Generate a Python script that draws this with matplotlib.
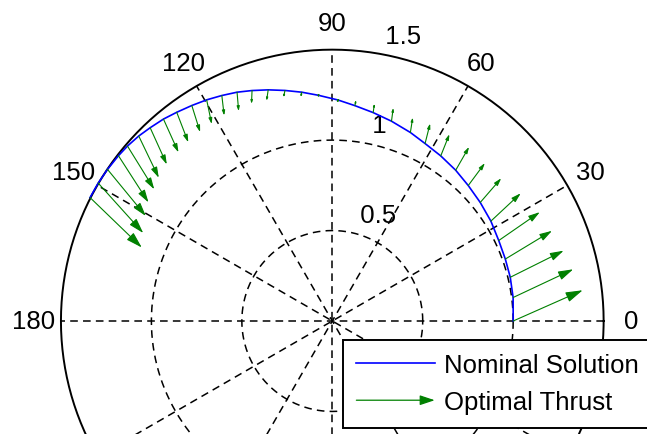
import numpy as np
import matplotlib
matplotlib.use("Agg")
import matplotlib.pyplot as plt
from matplotlib.lines import Line2D
from matplotlib.patches import FancyArrowPatch
from matplotlib.legend_handler import HandlerBase

plt.rcParams['font.family'] = ['Liberation Sans', 'DejaVu Sans']

# Nominal trajectory (polar angle in degrees, radius); thrust arrows start at these points
theta_deg = [0.0, 7.4, 13.8, 19.7, 25.8, 32.2, 38.7, 44.9, 50.7, 56.7, 62.4, 67.5,
             73.5, 78.9, 84.0, 88.5, 93.5, 97.6, 101.6, 105.5, 109.2, 112.6, 116.1,
             119.6, 123.1, 126.7, 129.9, 133.3, 136.3, 139.5, 142.3, 146.0, 149.5, 153.0]
radius = [1.000, 1.008, 1.013, 1.016, 1.022, 1.036, 1.048, 1.061, 1.077, 1.092, 1.107,
          1.128, 1.152, 1.174, 1.197, 1.222, 1.250, 1.276, 1.301, 1.326, 1.349, 1.370,
          1.388, 1.406, 1.422, 1.439, 1.455, 1.468, 1.480, 1.489, 1.494, 1.499, 1.502, 1.503]

# Thrust direction vectors (Cartesian components)
thrust_u = [0.384, 0.332, 0.295, 0.258, 0.227, 0.165, 0.116, 0.092, 0.074, 0.048, 0.028,
            0.013, 0.010, 0.007, 0.006, 0.003, -0.003, -0.006, -0.008, -0.009, -0.003,
            0.009, 0.013, 0.028, 0.046, 0.064, 0.083, 0.092, 0.111, 0.148, 0.166, 0.212,
            0.249, 0.286]
thrust_v = [0.170, 0.156, 0.147, 0.156, 0.157, 0.154, 0.134, 0.124, 0.129, 0.120, 0.111,
            0.083, 0.074, 0.050, 0.032, 0.011, -0.014, -0.028, -0.039, -0.061, -0.074,
            -0.105, -0.111, -0.134, -0.147, -0.166, -0.184, -0.203, -0.231, -0.239, -0.258,
            -0.258, -0.276, -0.276]

rmax = 1.5
rings = [0.5, 1.0]
angle_labels = [0, 30, 60, 90, 120, 150, 180]
spoke_step = 30
blue = '#0000ff'
green = '#008000'

fig = plt.figure(figsize=(6.47, 4.35), dpi=100)
ax = fig.add_axes([0, 0, 1, 1])
ax.set_xlim(-1.8369, 1.7397)
ax.set_ylim(-0.6247, 1.7800)
ax.axis('off')

dash = (5, 3.4)
phi = np.linspace(0, 2 * np.pi, 361)
for rr in rings:
    ax.plot(rr * np.cos(phi), rr * np.sin(phi), color='black', lw=1.1,
            dashes=dash, zorder=1)
ax.plot(rmax * np.cos(phi), rmax * np.sin(phi), color='black', lw=1.4, zorder=1)

for ang in range(spoke_step, 181, spoke_step):
    a = np.deg2rad(ang)
    ax.plot([-rmax * np.cos(a), rmax * np.cos(a)], [-rmax * np.sin(a), rmax * np.sin(a)],
            color='black', lw=1.1, dashes=dash, zorder=1)

# angle labels
fs = 18.5
for ang in angle_labels:
    a = np.deg2rad(ang)
    ax.text(1.1 * rmax * np.cos(a), 1.1 * rmax * np.sin(a), str(ang), ha='center',
            va='center', fontsize=fs, color='black')

# radial labels
a82 = np.deg2rad(82)
for rr in rings + [rmax]:
    lab = ('%g' % rr)
    ax.text((rr + 0.025) * np.cos(a82), (rr + 0.025) * np.sin(a82), '  ' + lab,
            ha='left', va='bottom', fontsize=fs, color='black')

th = np.deg2rad(theta_deg)
r = np.array(radius)
x = r * np.cos(th)
y = r * np.sin(th)
ax.plot(x, y, color=blue, lw=1.2, zorder=3)

px_per_unit = 180.9
for xb, yb, u, v in zip(x, y, thrust_u, thrust_v):
    length_pt = np.hypot(u, v) * px_per_unit * 0.72
    hl = max(0.19 * length_pt, 1.0)
    hw = 0.3 * hl
    arr = FancyArrowPatch((xb, yb), (xb + u, yb + v),
                          arrowstyle='-|>,head_length=%.3f,head_width=%.3f' % (hl, hw),
                          mutation_scale=1, color=green, lw=0.8,
                          shrinkA=0, shrinkB=0, zorder=4)
    ax.add_patch(arr)


class ArrowHandler(HandlerBase):
    def create_artists(self, legend, orig_handle, xdescent, ydescent, width, height,
                       fontsize, trans):
        yc = height / 2.0 - ydescent
        arr = FancyArrowPatch((-xdescent, yc), (-xdescent + width, yc),
                              arrowstyle='-|>,head_length=9,head_width=3',
                              mutation_scale=1, color=green, lw=0.9,
                              shrinkA=0, shrinkB=0, transform=trans)
        return [arr]


thrust_proxy = FancyArrowPatch((0, 0), (1, 0))
line_proxy = Line2D([], [], color=blue, lw=1.2)
leg = ax.legend([line_proxy, thrust_proxy], ['Nominal Solution', 'Optimal Thrust'],
                handler_map={FancyArrowPatch: ArrowHandler()},
                loc='upper left', bbox_to_anchor=(343 / 647, 1 - 341 / 435),
                bbox_transform=fig.transFigure, fontsize=fs, handlelength=3.05,
                handletextpad=0.38, labelspacing=0.5, borderpad=0.52,
                borderaxespad=0, fancybox=False, framealpha=1, edgecolor='black')
leg.get_frame().set_linewidth(1.4)
leg.set_zorder(10)

fig.savefig('out.png', dpi=100)
